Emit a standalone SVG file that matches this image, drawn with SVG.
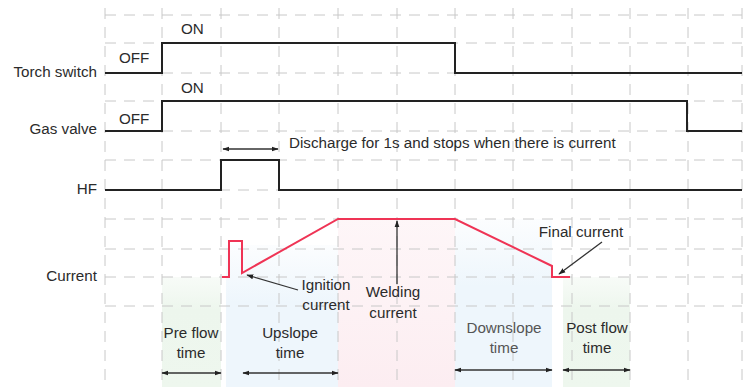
<svg xmlns="http://www.w3.org/2000/svg" width="752" height="387" viewBox="0 0 752 387">
<style>
.grid{stroke:#c8c8c8;stroke-width:1;stroke-dasharray:11 8;fill:none}
.sig{stroke:#222;stroke-width:2;fill:none}
.cur{stroke:#ef3455;stroke-width:2;fill:none;stroke-linejoin:miter}
.ptr{stroke:#333;stroke-width:1.3;fill:none}
text{font-family:"Liberation Sans",Arial,sans-serif;font-size:15.2px;fill:#2b2b2b}
.r{text-anchor:end}
.m{text-anchor:middle}
</style>
<defs>
<marker id="ah" viewBox="0 0 10 10" refX="9" refY="5" markerWidth="7" markerHeight="7" orient="auto-start-reverse" markerUnits="userSpaceOnUse">
<path d="M0,1.5 L10,5 L0,8.5 z" fill="#222"/>
</marker>
<linearGradient id="gG" x1="0" y1="0" x2="0" y2="1"><stop offset="0" stop-color="#edf6ed" stop-opacity="0.4"/><stop offset="0.3" stop-color="#edf6ed"/><stop offset="1" stop-color="#eef7ee"/></linearGradient>
<linearGradient id="gB" x1="0" y1="0" x2="0" y2="1"><stop offset="0" stop-color="#eef6fc" stop-opacity="0.2"/><stop offset="0.4" stop-color="#eef6fc"/><stop offset="1" stop-color="#eef6fc"/></linearGradient>
<linearGradient id="gP" x1="0" y1="0" x2="0" y2="1"><stop offset="0" stop-color="#fdf0f3" stop-opacity="0.6"/><stop offset="1" stop-color="#fcedf1"/></linearGradient>
</defs>
<g id="shading">
<rect x="162" y="277" width="59" height="110" fill="url(#gG)"/>
<rect x="226" y="245" width="112" height="142" fill="url(#gB)"/>
<rect x="338" y="219" width="117" height="168" fill="url(#gP)"/>
<rect x="455" y="219" width="97" height="168" fill="url(#gB)"/>
<rect x="563" y="277" width="67" height="110" fill="url(#gG)"/>
</g>
<g id="grid">
<path class="grid" d="M105,15H742M105,43H742M105,73H742M105,101H742M105,131H742M105,160H742M105,190H742M105,219H742M105,249H742M105,277H742M105,306H742"/>
<path class="grid" d="M105,8V387M162,8V387M221,8V387M279,8V387M338,8V387M397,8V387M455,8V387M513,8V387M572,8V387M630,8V387M688,8V387M742,8V387"/>
</g>
<g id="torch-switch">
<text class="r" x="97" y="77">Torch switch</text>
<text x="119" y="63">OFF</text>
<text x="181" y="34">ON</text>
<path class="sig" d="M105,73H162V43H455V73H742"/>
</g>
<g id="gas-valve">
<text class="r" x="97" y="134">Gas valve</text>
<text x="119" y="124">OFF</text>
<text x="181" y="93">ON</text>
<path class="sig" d="M105,131H162V101H687V131H742"/>
</g>
<g id="hf">
<text class="r" x="97" y="194">HF</text>
<path class="sig" d="M105,190H221V160H279V190H742"/>
<text x="289" y="148">Discharge for 1s and stops when there is current</text>
</g>
<g id="current">
<text class="r" x="97" y="281">Current</text>
<path class="cur" d="M222,277H229V241H242V273L338,219H455L552,266V277H570"/>
</g>
<g id="connectors">
<path class="ptr" d="M223,149H278" marker-start="url(#ah)" marker-end="url(#ah)"/>
<path class="ptr" d="M298,290L247,275" marker-end="url(#ah)"/>
<path class="ptr" d="M397,284V221" marker-end="url(#ah)"/>
<path class="ptr" d="M602,242L559,274" marker-end="url(#ah)"/>
<path class="ptr" d="M162,373H221" marker-start="url(#ah)" marker-end="url(#ah)"/>
<path class="ptr" d="M243,373H338" marker-start="url(#ah)" marker-end="url(#ah)"/>
<path class="ptr" d="M455,370H552" marker-start="url(#ah)" marker-end="url(#ah)"/>
<path class="ptr" d="M563,370H630" marker-start="url(#ah)" marker-end="url(#ah)"/>
</g>
<g id="labels">
<text class="m" x="326" y="290">Ignition</text>
<text class="m" x="326" y="310">current</text>
<text class="m" x="393" y="297">Welding</text>
<text class="m" x="393" y="318">current</text>
<text class="m" x="581" y="237">Final current</text>
<text class="m" x="191" y="338">Pre flow</text>
<text class="m" x="191" y="358">time</text>
<text class="m" x="290" y="338">Upslope</text>
<text class="m" x="290" y="358">time</text>
<text class="m" x="504" y="333" style="fill:#555">Downslope</text>
<text class="m" x="504" y="353" style="fill:#555">time</text>
<text class="m" x="597" y="333">Post flow</text>
<text class="m" x="597" y="353">time</text>
</g>
</svg>
